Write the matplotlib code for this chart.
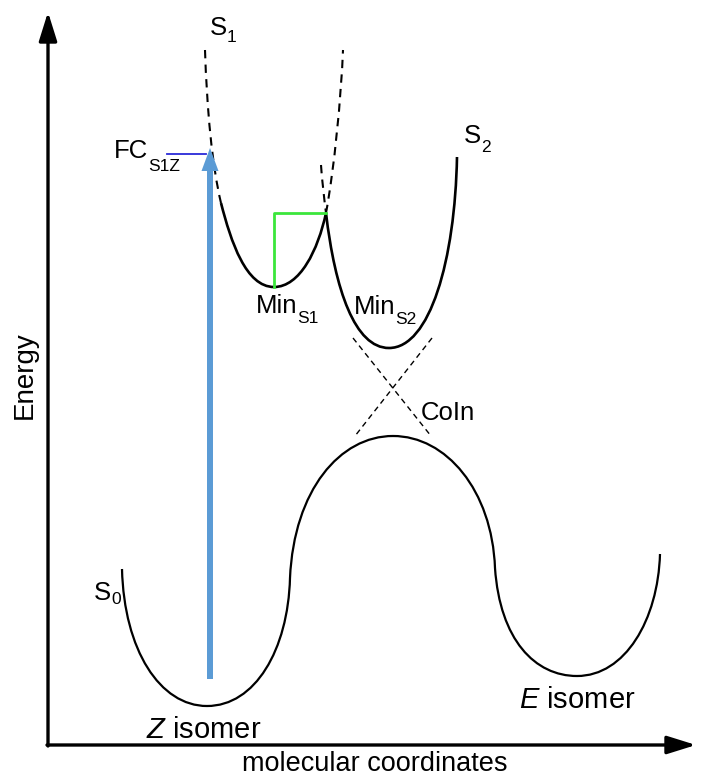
import matplotlib
matplotlib.use("Agg")
import matplotlib.pyplot as plt
from matplotlib.path import Path
from matplotlib.patches import PathPatch, FancyArrow

plt.rcParams['font.family'] = ['Liberation Sans', 'DejaVu Sans']
plt.rcParams['mathtext.fontset'] = 'custom'
plt.rcParams['mathtext.rm'] = 'Liberation Sans'
plt.rcParams['mathtext.it'] = 'Liberation Sans:italic'

# Potential energy curves, each as a chain of cubic Bezier pieces
# (start, ctrl1, ctrl2, end, ctrl1, ctrl2, end, ...) in drawing units
s0_curve = [(122, 569), (124, 650), (160, 706), (207, 706),
            (255, 706), (288, 650), (290, 578),
            (294, 490), (340, 436), (393, 436),
            (446, 436), (492, 490), (495, 568),
            (500, 640), (535, 676), (577, 676),
            (625, 676), (658, 620), (660, 554)]
s1_dashed_left = [(205, 50), (207, 110), (212, 165), (221, 203)]
s1_solid = [(221, 203), (231, 242), (246, 287), (274, 287),
            (300, 287), (318, 250), (326, 213)]
s1_dashed_right = [(326, 213), (334, 170), (341, 100), (343, 50)]
s2_dashed = [(321, 165), (322, 180), (324, 197), (326, 213)]
s2_solid = [(326, 213), (335, 290), (355, 348), (389, 348),
            (430, 348), (455, 260), (457, 157)]

# Conical intersection crossing lines
coin_a = [(353, 338), (431, 436)]
coin_b = [(432, 338), (355, 436)]

# Key points
fc_level = 154
min_s1 = (274, 287)
crossing = (326, 213)
excite_x = 210
excite_from = 679
excite_to = 148

# (text, subscript, x, baseline y, subscript drop)
labels = [
    ('S', '1', 210, 35, 7),
    ('FC', 'S1Z', 114, 158, 13),
    ('S', '2', 464, 143, 9),
    ('Min', 'S1', 256, 313, 10),
    ('Min', 'S2', 354, 314, 10),
    ('CoIn', '', 421, 420, 0),
    ('S', '0', 94, 600, 4),
]
isomers = [(r'$\mathit{Z}$ isomer', 146, 738), (r'$\mathit{E}$ isomer', 519, 708)]


def bezier(ax, pts, **kw):
    codes = [Path.MOVETO] + [Path.CURVE4] * (len(pts) - 1)
    ax.add_patch(PathPatch(Path(pts, codes), fill=False, **kw))


fig = plt.figure(figsize=(7.07, 7.78), dpi=100)
ax = fig.add_axes([0, 0, 1, 1])
ax.set_xlim(0, 707)
ax.set_ylim(778, 0)
ax.axis('off')

# axes with arrow heads
arrow = dict(arrowstyle='-|>,head_length=0.8,head_width=0.25', lw=2.4,
             color='black', mutation_scale=22, shrinkA=0, shrinkB=0)
ax.annotate('', xy=(48, 12), xytext=(48, 746), arrowprops=arrow)
ax.annotate('', xy=(696, 745), xytext=(47, 745), arrowprops=arrow)

# curves
bezier(ax, s0_curve, lw=1.6, edgecolor='black')
bezier(ax, s1_solid, lw=1.9, edgecolor='black')
bezier(ax, s2_solid, lw=1.9, edgecolor='black')
for seg in (s1_dashed_left, s1_dashed_right, s2_dashed):
    bezier(ax, seg, lw=1.5, edgecolor='black', linestyle=(0, (4, 3)))
for ln in (coin_a, coin_b):
    xs, ys = zip(*ln)
    ax.plot(xs, ys, color='black', lw=1.0, linestyle=(0, (4, 3)))

# relaxation markers
ax.plot([min_s1[0], min_s1[0], crossing[0]],
        [min_s1[1], crossing[1], crossing[1]], color='#3be63b', lw=2.0)
ax.plot([167, 206], [fc_level, fc_level], color='#2a2ad8', lw=1.3)

# vertical excitation
ax.add_patch(FancyArrow(excite_x, excite_from, 0, excite_to - excite_from,
                        width=6, head_width=17, head_length=23,
                        length_includes_head=True, color='#5b9bd5', lw=0))

renderer = fig.canvas.get_renderer()
for txt, sub, x, y, drop in labels:
    t = ax.text(x, y, txt, fontsize=18.5, ha='left', va='baseline')
    if sub:
        bb = t.get_window_extent(renderer)
        x_end = ax.transData.inverted().transform((bb.x1, bb.y0))[0]
        ax.text(x_end, y + drop, sub, fontsize=12.5, ha='left', va='baseline')

for txt, x, y in isomers:
    ax.text(x, y, txt, fontsize=21, ha='left', va='baseline')

ax.text(25, 375, 'Energy', fontsize=20, rotation=90, ha='center', va='center')
ax.text(242, 777, 'molecular coordinates', fontsize=19.5, ha='left', va='bottom')

fig.savefig('out.png', dpi=100)
